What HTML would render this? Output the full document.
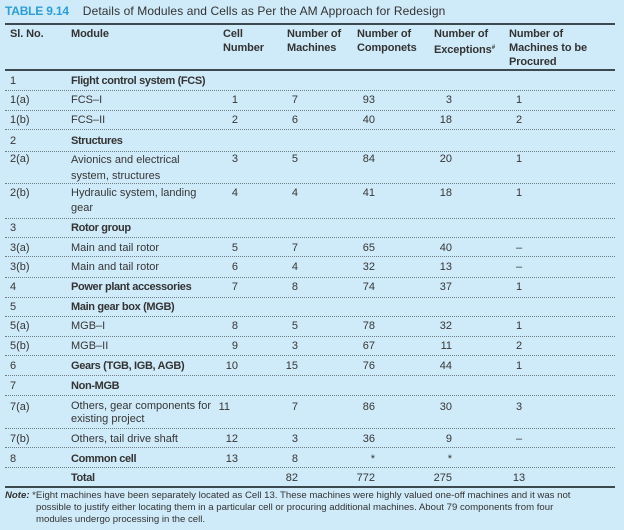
<!DOCTYPE html>
<html><head><meta charset="utf-8">
<style>
html,body{margin:0;padding:0;}
body{width:624px;height:530px;background:#cfeaf8;position:relative;overflow:hidden;font-family:"Liberation Sans",Arial,sans-serif;color:#363636;font-size:11px;}
.t{position:absolute;line-height:14px;white-space:nowrap;}
.b{font-weight:bold;letter-spacing:-0.35px;color:#333;}
.h{font-weight:bold;letter-spacing:-0.1px;color:#333;}
.r{text-align:right;}
.c{text-align:center;}
.dl{position:absolute;left:5px;width:610px;height:0;border-top:1px dotted #6d7e86;}
.rule{position:absolute;left:5px;width:610px;background:#3c4a50;}
</style></head><body>

<div class="t" style="left:5px;top:4px;font-size:12px;line-height:15px;"><span style="color:#2b9fd8;font-weight:bold;letter-spacing:-0.2px;">TABLE 9.14</span><span style="margin-left:14px;color:#333;letter-spacing:0.1px;">Details of Modules and Cells as Per the AM Approach for Redesign</span></div>

<div class="rule" style="top:23px;height:2px;"></div>

<!-- header -->
<div class="t h" style="left:10px;top:27px;">Sl. No.</div>
<div class="t h" style="left:71px;top:27px;">Module</div>
<div class="t h" style="left:223px;top:27px;">Cell<br>Number</div>
<div class="t h" style="left:287px;top:27px;">Number of<br>Machines</div>
<div class="t h" style="left:357px;top:27px;">Number of<br>Componets</div>
<div class="t h" style="left:434px;top:27px;">Number of<br>Exceptions<sup style="font-size:6px;vertical-align:4px;">#</sup></div>
<div class="t h" style="left:509px;top:27px;">Number of<br>Machines to be<br>Procured</div>

<div class="rule" style="top:69px;height:2px;"></div>

<!-- dotted lines -->
<div class="dl" style="top:90px"></div>
<div class="dl" style="top:110px"></div>
<div class="dl" style="top:129px"></div>
<div class="dl" style="top:151px"></div>
<div class="dl" style="top:183px"></div>
<div class="dl" style="top:218px"></div>
<div class="dl" style="top:237px"></div>
<div class="dl" style="top:256px"></div>
<div class="dl" style="top:277px"></div>
<div class="dl" style="top:297px"></div>
<div class="dl" style="top:316px"></div>
<div class="dl" style="top:336px"></div>
<div class="dl" style="top:355px"></div>
<div class="dl" style="top:375px"></div>
<div class="dl" style="top:395px"></div>
<div class="dl" style="top:428px"></div>
<div class="dl" style="top:447px"></div>
<div class="dl" style="top:467px"></div>

<div class="rule" style="top:486px;height:2px;"></div>

<!-- rows -->
<div class="t" style="left:10px;top:74px;">1</div>
<div class="t b" style="left:71px;top:74px;">Flight control system (FCS)</div>

<div class="t" style="left:10px;top:93px;">1(a)</div>
<div class="t" style="left:71px;top:93px;">FCS–I</div>
<div class="t r" style="left:200px;width:38px;top:93px;">1</div>
<div class="t r" style="left:260px;width:38px;top:93px;">7</div>
<div class="t r" style="left:335px;width:40px;top:93px;">93</div>
<div class="t r" style="left:412px;width:40px;top:93px;">3</div>
<div class="t c" style="left:499px;width:40px;top:93px;">1</div>

<div class="t" style="left:10px;top:113px;">1(b)</div>
<div class="t" style="left:71px;top:113px;">FCS–II</div>
<div class="t r" style="left:200px;width:38px;top:113px;">2</div>
<div class="t r" style="left:260px;width:38px;top:113px;">6</div>
<div class="t r" style="left:335px;width:40px;top:113px;">40</div>
<div class="t r" style="left:412px;width:40px;top:113px;">18</div>
<div class="t c" style="left:499px;width:40px;top:113px;">2</div>

<div class="t" style="left:10px;top:134px;">2</div>
<div class="t b" style="left:71px;top:134px;">Structures</div>

<div class="t" style="left:10px;top:152px;">2(a)</div>
<div class="t" style="left:71px;top:152px;line-height:16px;">Avionics and electrical<br>system, structures</div>
<div class="t r" style="left:200px;width:38px;top:152px;">3</div>
<div class="t r" style="left:260px;width:38px;top:152px;">5</div>
<div class="t r" style="left:335px;width:40px;top:152px;">84</div>
<div class="t r" style="left:412px;width:40px;top:152px;">20</div>
<div class="t c" style="left:499px;width:40px;top:152px;">1</div>

<div class="t" style="left:10px;top:186px;">2(b)</div>
<div class="t" style="left:71px;top:186px;line-height:15px;">Hydraulic system, landing<br>gear</div>
<div class="t r" style="left:200px;width:38px;top:186px;">4</div>
<div class="t r" style="left:260px;width:38px;top:186px;">4</div>
<div class="t r" style="left:335px;width:40px;top:186px;">41</div>
<div class="t r" style="left:412px;width:40px;top:186px;">18</div>
<div class="t c" style="left:499px;width:40px;top:186px;">1</div>

<div class="t" style="left:10px;top:221px;">3</div>
<div class="t b" style="left:71px;top:221px;">Rotor group</div>

<div class="t" style="left:10px;top:241px;">3(a)</div>
<div class="t" style="left:71px;top:241px;">Main and tail rotor</div>
<div class="t r" style="left:200px;width:38px;top:241px;">5</div>
<div class="t r" style="left:260px;width:38px;top:241px;">7</div>
<div class="t r" style="left:335px;width:40px;top:241px;">65</div>
<div class="t r" style="left:412px;width:40px;top:241px;">40</div>
<div class="t c" style="left:499px;width:40px;top:241px;">–</div>

<div class="t" style="left:10px;top:260px;">3(b)</div>
<div class="t" style="left:71px;top:260px;">Main and tail rotor</div>
<div class="t r" style="left:200px;width:38px;top:260px;">6</div>
<div class="t r" style="left:260px;width:38px;top:260px;">4</div>
<div class="t r" style="left:335px;width:40px;top:260px;">32</div>
<div class="t r" style="left:412px;width:40px;top:260px;">13</div>
<div class="t c" style="left:499px;width:40px;top:260px;">–</div>

<div class="t" style="left:10px;top:280px;">4</div>
<div class="t b" style="left:71px;top:280px;">Power plant accessories</div>
<div class="t r" style="left:200px;width:38px;top:280px;">7</div>
<div class="t r" style="left:260px;width:38px;top:280px;">8</div>
<div class="t r" style="left:335px;width:40px;top:280px;">74</div>
<div class="t r" style="left:412px;width:40px;top:280px;">37</div>
<div class="t c" style="left:499px;width:40px;top:280px;">1</div>

<div class="t" style="left:10px;top:300px;">5</div>
<div class="t b" style="left:71px;top:300px;">Main gear box (MGB)</div>

<div class="t" style="left:10px;top:319px;">5(a)</div>
<div class="t" style="left:71px;top:319px;">MGB–I</div>
<div class="t r" style="left:200px;width:38px;top:319px;">8</div>
<div class="t r" style="left:260px;width:38px;top:319px;">5</div>
<div class="t r" style="left:335px;width:40px;top:319px;">78</div>
<div class="t r" style="left:412px;width:40px;top:319px;">32</div>
<div class="t c" style="left:499px;width:40px;top:319px;">1</div>

<div class="t" style="left:10px;top:339px;">5(b)</div>
<div class="t" style="left:71px;top:339px;">MGB–II</div>
<div class="t r" style="left:200px;width:38px;top:339px;">9</div>
<div class="t r" style="left:260px;width:38px;top:339px;">3</div>
<div class="t r" style="left:335px;width:40px;top:339px;">67</div>
<div class="t r" style="left:412px;width:40px;top:339px;">11</div>
<div class="t c" style="left:499px;width:40px;top:339px;">2</div>

<div class="t" style="left:10px;top:359px;">6</div>
<div class="t b" style="left:71px;top:359px;">Gears (TGB, IGB, AGB)</div>
<div class="t r" style="left:200px;width:38px;top:359px;">10</div>
<div class="t r" style="left:260px;width:38px;top:359px;">15</div>
<div class="t r" style="left:335px;width:40px;top:359px;">76</div>
<div class="t r" style="left:412px;width:40px;top:359px;">44</div>
<div class="t c" style="left:499px;width:40px;top:359px;">1</div>

<div class="t" style="left:10px;top:379px;">7</div>
<div class="t b" style="left:71px;top:379px;">Non-MGB</div>

<div class="t" style="left:10px;top:400px;">7(a)</div>
<div class="t" style="left:71px;top:400px;line-height:13px;">Others, gear components for<br>existing project</div>
<div class="t r" style="left:192px;width:38px;top:400px;">11</div>
<div class="t r" style="left:260px;width:38px;top:400px;">7</div>
<div class="t r" style="left:335px;width:40px;top:400px;">86</div>
<div class="t r" style="left:412px;width:40px;top:400px;">30</div>
<div class="t c" style="left:499px;width:40px;top:400px;">3</div>

<div class="t" style="left:10px;top:432px;">7(b)</div>
<div class="t" style="left:71px;top:432px;">Others, tail drive shaft</div>
<div class="t r" style="left:200px;width:38px;top:432px;">12</div>
<div class="t r" style="left:260px;width:38px;top:432px;">3</div>
<div class="t r" style="left:335px;width:40px;top:432px;">36</div>
<div class="t r" style="left:412px;width:40px;top:432px;">9</div>
<div class="t c" style="left:499px;width:40px;top:432px;">–</div>

<div class="t" style="left:10px;top:452px;">8</div>
<div class="t b" style="left:71px;top:452px;">Common cell</div>
<div class="t r" style="left:200px;width:38px;top:452px;">13</div>
<div class="t r" style="left:260px;width:38px;top:452px;">8</div>
<div class="t r" style="left:335px;width:40px;top:452px;">*</div>
<div class="t r" style="left:412px;width:40px;top:452px;">*</div>

<div class="t b" style="left:71px;top:471px;">Total</div>
<div class="t r" style="left:260px;width:38px;top:471px;">82</div>
<div class="t r" style="left:335px;width:40px;top:471px;">772</div>
<div class="t r" style="left:412px;width:40px;top:471px;">275</div>
<div class="t c" style="left:499px;width:40px;top:471px;">13</div>

<!-- Note -->
<div class="t" style="left:5px;top:490px;font-size:9.6px;line-height:12px;color:#333;"><b><i>Note:</i></b> *Eight machines have been separately located as Cell 13. These machines were highly valued one-off machines and it was not</div>
<div class="t" style="left:36px;top:502px;font-size:9.6px;line-height:12px;color:#333;">possible to justify either locating them in a particular cell or procuring additional machines. About 79 components from four</div>
<div class="t" style="left:36px;top:514px;font-size:9.6px;line-height:12px;color:#333;">modules undergo processing in the cell.</div>

</body></html>
